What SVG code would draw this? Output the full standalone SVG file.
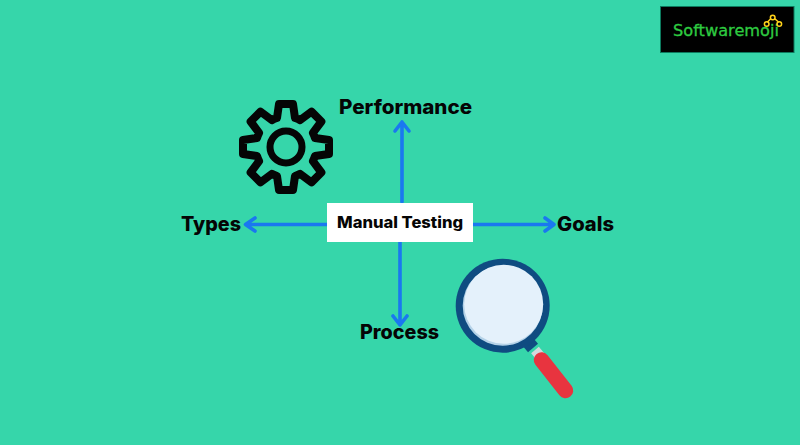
<svg xmlns="http://www.w3.org/2000/svg" width="800" height="445" viewBox="0 0 800 445">
<style>
.lb{font-family:"Inter","Liberation Sans",sans-serif;font-weight:800;fill:#050505}
.big{font-size:20px}
.con{fill:none;stroke:#1a78f0;stroke-width:3.6;stroke-linecap:round;stroke-linejoin:round}
</style>
<rect width="800" height="445" fill="#36d6aa"/>
<g id="connectors" class="con">
<path d="M402 202V122M395 131L402 122L409 131"/>
<path d="M400 242V325M393 316L400 325L407 316"/>
<path d="M327 224.500H245.500M255 218L245.500 224.500L255 231"/>
<path d="M473 224.500H554M545 218L554 224.500L545 231"/>
</g>
<g id="logo">
<rect x="660.500" y="6.500" width="133.500" height="46" fill="#000" stroke="#0d7a5e"/>
<text x="673" y="36" textLength="106" lengthAdjust="spacingAndGlyphs" font-family="DejaVu Sans" font-size="15.500" fill="#2ecb40" stroke="#2ecb40" stroke-width="0.300">Softwaremoji</text>
<g fill="none" stroke="#ffd21a" stroke-width="1.500">
<path d="M767.500 22L771 18.500M774.500 18.500L778.500 22"/>
<circle cx="772.700" cy="17.500" r="2.300"/><circle cx="766.700" cy="24" r="2.300"/><circle cx="779.300" cy="24" r="2.300"/>
</g>
</g>
<g id="gear" transform="translate(286 147)" fill="none" stroke="#050505" stroke-linejoin="round">
<path stroke-width="8" d="M-9-29L-7-43H7L9-29A30 30 0 0 1 14.100-26.900L25.500-35.400L35.400-25.500L26.900-14.100A30 30 0 0 1 29-9L43-7V7L29 9A30 30 0 0 1 26.900 14.100L35.400 25.500L25.500 35.400L14.100 26.900A30 30 0 0 1 9 29L7 43H-7L-9 29A30 30 0 0 1-14.100 26.900L-25.500 35.400L-35.400 25.500L-26.900 14.100A30 30 0 0 1-29 9L-43 7V-7L-29-9A30 30 0 0 1-26.900-14.100L-35.400-25.500L-25.500-35.400L-14.100-26.900A30 30 0 0 1-9-29Z"/>
<circle r="16" stroke-width="7"/>
</g>
<g id="magnifier">
<line x1="535" y1="350" x2="540" y2="356" stroke="#d3d8dc" stroke-width="10"/>
<line x1="528" y1="342" x2="533" y2="348" stroke="#0f4c81" stroke-width="13"/>
<line x1="541.500" y1="360" x2="565.500" y2="390.500" stroke="#e8343f" stroke-width="15.500" stroke-linecap="round"/>
<circle cx="502.700" cy="305.700" r="47" fill="#0f4c81"/>
<circle cx="502.700" cy="305.700" r="40" fill="#b5d3e8"/>
<circle cx="503.700" cy="304.200" r="39.500" fill="#e4f1fb"/>
</g>
<g id="center">
<rect x="327" y="203" width="146" height="39" fill="#fff"/>
<text class="lb" x="337" y="227.500" font-size="15.500" textLength="126" lengthAdjust="spacingAndGlyphs">Manual Testing</text>
</g>
<g id="performance"><text class="lb big" x="339" y="114" textLength="133" lengthAdjust="spacingAndGlyphs">Performance</text></g>
<g id="types"><text class="lb big" x="181" y="231" textLength="60" lengthAdjust="spacingAndGlyphs">Types</text></g>
<g id="goals"><text class="lb big" x="557" y="231" textLength="57" lengthAdjust="spacingAndGlyphs">Goals</text></g>
<g id="process"><text class="lb big" x="360" y="339" textLength="79" lengthAdjust="spacingAndGlyphs">Process</text></g>
</svg>
